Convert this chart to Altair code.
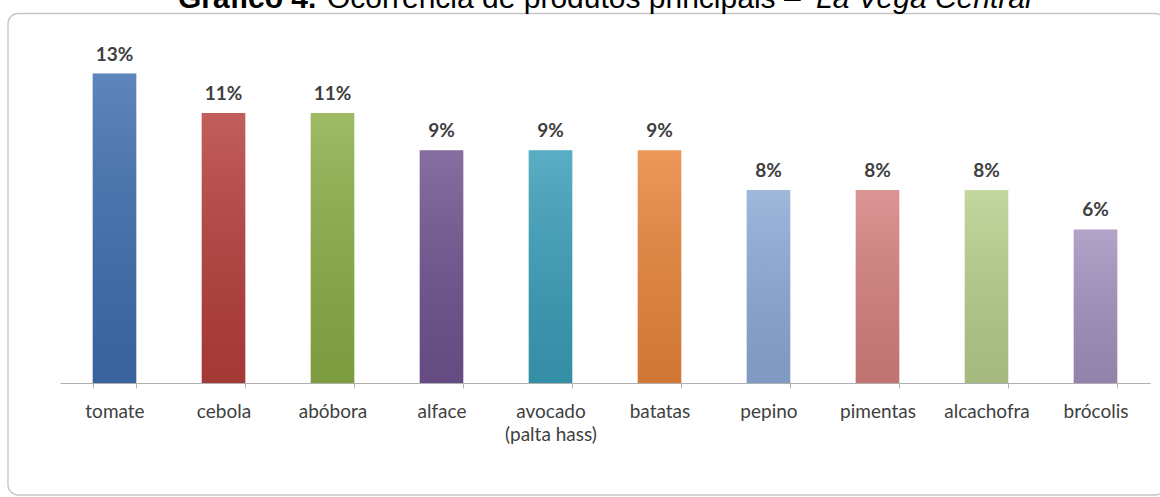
import altair as alt
import pandas as pd

produtos = ["tomate", "cebola", "abóbora", "alface", "avocado (palta hass)",
            "batatas", "pepino", "pimentas", "alcachofra", "brócolis"]
ocorrencia = [13.3, 11.6, 11.6, 10.0, 10.0, 10.0, 8.3, 8.3, 8.3, 6.6]
rotulos = ["13%", "11%", "11%", "9%", "9%", "9%", "8%", "8%", "8%", "6%"]
cores = ["#3F6EAF", "#B63F3C", "#8BAE47", "#6F538F", "#3A9EB9",
         "#E9853B", "#8EAAD6", "#D5817F", "#B8CF8D", "#A392BF"]

titulo_partes = ["Gráfico 4.", "Ocorrência de produtos principais – ", "La Vega Central"]

df = pd.DataFrame({"produto": produtos, "valor": ocorrencia, "rotulo": rotulos, "cor": cores})

x_enc = alt.X(
    "produto:N", sort=produtos,
    scale=alt.Scale(paddingInner=0.6, paddingOuter=0.3),
    axis=alt.Axis(
        title=None, labelAngle=0, tickBand="extent",
        domainColor="#B0B0B0", tickColor="#B0B0B0", tickSize=5, domainWidth=1.2,
        labelFont="Lato", labelFontSize=19, labelColor="#404040",
        labelPadding=14, labelLineHeight=23,
        labelExpr="indexof(datum.label, ' (') > 0 ? [substring(datum.label, 0, indexof(datum.label, ' (')), substring(datum.label, indexof(datum.label, ' (') + 1)] : datum.label",
    ),
)
y_enc = alt.Y("valor:Q", scale=alt.Scale(domain=[0, 15]), axis=None)

base = alt.Chart(df)

bars = base.mark_bar().encode(x=x_enc, y=y_enc, color=alt.Color("cor:N", scale=None))

shade = base.mark_bar(
    fill=alt.Gradient(
        gradient="linear",
        stops=[alt.GradientStop(color="rgba(255,255,255,0.16)", offset=0),
               alt.GradientStop(color="rgba(0,0,0,0.10)", offset=1)],
        x1=0, x2=0, y1=0, y2=1,
    )
).encode(x=x_enc, y=y_enc)

labels = base.mark_text(
    font="Lato", fontSize=19, fontWeight="bold", color="#404040", dy=-13, baseline="alphabetic"
).encode(x=x_enc, y=y_enc, text="rotulo:N")

frame = alt.Chart(pd.DataFrame({"k": [0]})).mark_rect(
    fillOpacity=0, stroke="#C4C4C4", strokeWidth=1.3, cornerRadius=10
).encode(x=alt.value(-52), x2=alt.value(1105), y=alt.value(-20.5), y2=alt.value(461))

t1 = alt.Chart(pd.DataFrame({"t": [titulo_partes[0]]})).mark_text(
    font="Liberation Sans", fontSize=30, fontWeight="bold", color="#000000", align="left", baseline="alphabetic"
).encode(text="t:N", x=alt.value(118), y=alt.value(-26))
t2 = alt.Chart(pd.DataFrame({"t": [titulo_partes[1]]})).mark_text(
    font="Liberation Sans", fontSize=30, color="#000000", align="left", baseline="alphabetic"
).encode(text="t:N", x=alt.value(267), y=alt.value(-26))
t3 = alt.Chart(pd.DataFrame({"t": [titulo_partes[2]]})).mark_text(
    font="Liberation Sans", fontSize=30, fontStyle="italic", color="#000000", align="left", baseline="alphabetic"
).encode(text="t:N", x=alt.value(756), y=alt.value(-26))

chart = alt.layer(frame, bars, shade, labels, t1, t2, t3).properties(
    width=1090, height=349,
    padding={"left": 60, "top": 34, "right": 10, "bottom": 114},
    autosize=alt.AutoSizeParams(type="none"),
    background="#FFFFFF",
).configure_view(stroke=None)

chart.save("out.html", embed_options={"renderer": "svg", "actions": False})
